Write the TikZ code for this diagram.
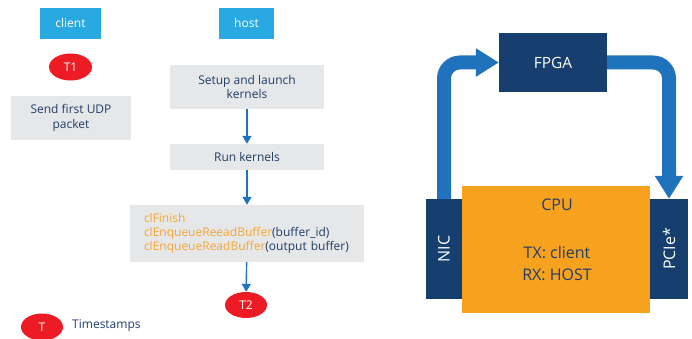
\documentclass[tikz,border=0pt]{standalone}
\usepackage{fontspec}
\setmainfont{Open Sans}
\usetikzlibrary{arrows.meta, positioning, shapes.geometric}

\definecolor{laneblue}{HTML}{29A9E1}
\definecolor{stampred}{HTML}{ED1C24}
\definecolor{stepgrey}{HTML}{E6E7E8}
\definecolor{navytext}{HTML}{1F3D6B}
\definecolor{navybox}{HTML}{163F6F}
\definecolor{flowblue}{HTML}{1F73BC}
\definecolor{cpuorange}{HTML}{F6A21E}
\definecolor{codeorange}{HTML}{F7A733}

\begin{document}
\begin{tikzpicture}[x=1pt, y=-1pt,
  font=\fontsize{12}{14.5}\selectfont, text=navytext,
  lane/.style={fill=laneblue, text=white, inner sep=0pt, minimum height=31pt},
  stepbox/.style={fill=stepgrey, inner sep=0pt, align=center},
  stamp/.style={ellipse, fill=stampred, text=white, inner sep=0pt,
    minimum width=43pt, minimum height=27pt},
  flow/.style={draw=flowblue, line width=1.4pt, -{Triangle[length=8pt, width=9pt]}},
  chip/.style={fill=navybox, text=white, inner sep=0pt},
  bus/.style={draw=flowblue, line width=14pt, rounded corners=16pt,
    -{Triangle[length=23pt, width=27pt]}}
]
  \useasboundingbox (0,0) rectangle (692,339);

  % Lanes
  \node[lane, minimum width=61pt] (client) at (70.5,23.5) {client};
  \node[lane, minimum width=55pt] (host) at (246.5,23.5) {host};

  % Client side
  \node[stamp] (t1) at (70.5,67) {T1};
  \node[stepbox, minimum width=120pt, minimum height=44pt] (send) at (71,118)
    {Send first UDP\\packet};

  % Host side
  \node[stepbox, minimum width=154pt, minimum height=44pt] (setup) at (247,87)
    {Setup and launch\\kernels};
  \node[stepbox, minimum width=154pt, minimum height=26pt] (run) at (247,157)
    {Run kernels};
  \node[stepbox, minimum width=234pt, minimum height=57pt, text width=206pt,
    inner xsep=14pt, align=left, font=\fontsize{12}{14}\selectfont] (finish) at (247,233.5)
    {{\color{codeorange}clFinish}\\
     {\color{codeorange}clEnqueueReeadBuffer}(buffer\_id)\\
     {\color{codeorange}clEnqueueReadBuffer}(output buffer)};
  \node[stamp, minimum width=42pt, minimum height=26pt] (t2) at (246,305) {T2};

  \draw[flow] (setup) -- (run);
  \draw[flow] (run) -- (finish);
  \draw[flow] (finish) -- (t2);

  % Legend
  \node[stamp, minimum width=42pt] (legend) at (42,327) {T};
  \node[anchor=west, inner sep=0pt] (legendtext) at (72,326) {Timestamps};

  % Hardware
  \node[chip, minimum width=108pt, minimum height=59pt,
    font=\fontsize{15.5}{18}\selectfont] (fpga) at (553,62.5) {FPGA};
  \node[fill=cpuorange, minimum width=188pt, minimum height=127pt,
    inner sep=0pt] (cpu) at (556,249.5) {};
  \node[chip, minimum width=36pt, minimum height=100pt,
    font=\fontsize{16}{18}\selectfont] (nic) at (444,249) {\rotatebox{90}{NIC}};
  \node[chip, minimum width=38pt, minimum height=100pt,
    font=\fontsize{16}{18}\selectfont] (pcie) at (669,249) {\rotatebox{90}{PCIe*}};
  \node[font=\fontsize{16}{18}\selectfont] (cputitle) at (557,205) {CPU};
  \node[align=center, font=\fontsize{16}{22}\selectfont] (cpuroles) at (557,264)
    {TX: client\\RX: HOST};

  \draw[bus] (nic.north) |- (fpga.west);
  \draw[bus] (fpga.east) -| (pcie.north);
\end{tikzpicture}
\end{document}
